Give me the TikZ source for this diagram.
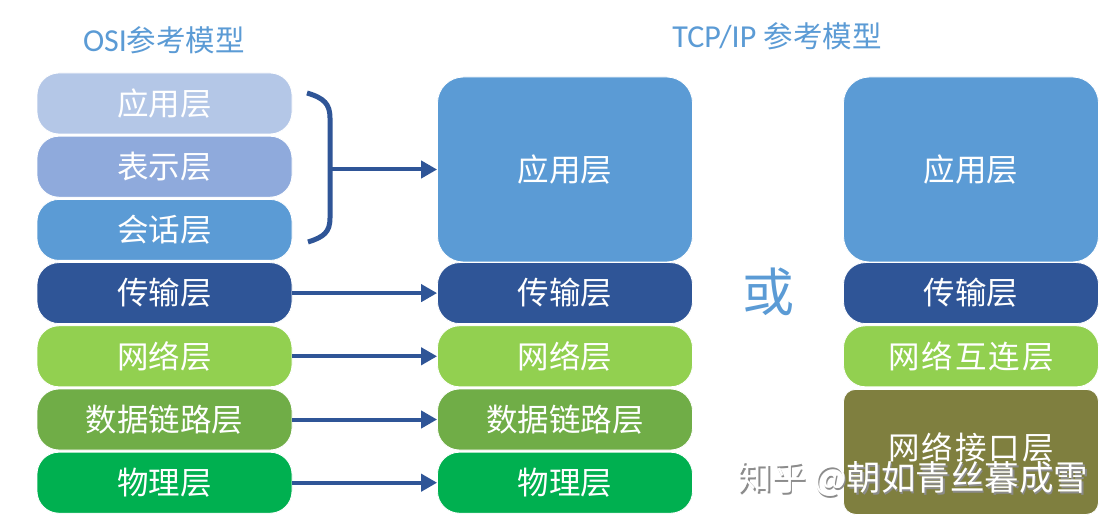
\documentclass[tikz,border=0pt]{standalone}
\usepackage{fontspec}
\setmainfont{Noto Sans CJK SC}
\newfontfamily\latf{Carlito}
\usetikzlibrary{arrows.meta}
\definecolor{cApp}{HTML}{B4C7E7}
\definecolor{cPre}{HTML}{8FAADC}
\definecolor{cSes}{HTML}{5B9BD5}
\definecolor{cTra}{HTML}{2F5597}
\definecolor{cNet}{HTML}{92D050}
\definecolor{cDat}{HTML}{70AD47}
\definecolor{cPhy}{HTML}{00B050}
\definecolor{cIfc}{HTML}{7F7F3F}
\definecolor{cTitle}{HTML}{5B9BD5}
\definecolor{cArr}{HTML}{2F5597}
\tikzset{
  layer/.style={rounded corners=22pt, draw=white, line width=0.8pt, inner sep=0pt,
    minimum width=255pt, minimum height=61pt, text=white,
    font=\fontsize{31.5}{34}\selectfont},
  arr/.style={draw=cArr, line width=4pt, -{Triangle[length=16pt,width=17pt]}},
  brk/.style={draw=cArr, line width=5pt},
  title/.style={text=cTitle, font=\fontsize{29.5}{32}\selectfont},
}
\begin{document}
\begin{tikzpicture}[x=1pt,y=-1pt]
\useasboundingbox[fill=white] (0,0) rectangle (1113,529);
% titles
\node[title] (t1) at (164,40) {{\latf\fontsize{32}{34}\selectfont OSI}参考模型};
\node[title] (t2) at (777,36) {{\latf\fontsize{32}{34}\selectfont TCP/IP }参考模型};
% OSI column
\node[layer, fill=cApp] (o1) at (164.5,103.5) {应用层};
\node[layer, fill=cPre] (o2) at (164.5,166.7) {表示层};
\node[layer, fill=cSes] (o3) at (164.5,229.9) {会话层};
\node[layer, fill=cTra] (o4) at (164.5,293.1) {传输层};
\node[layer, fill=cNet] (o5) at (164.5,356.3) {网络层};
\node[layer, fill=cDat] (o6) at (164.5,419.5) {数据链路层};
\node[layer, fill=cPhy] (o7) at (164.5,482.7) {物理层};
% TCP/IP middle column
\node[layer, fill=cSes, minimum height=185pt, rounded corners=26pt] (m1) at (565,169.5) {应用层};
\node[layer, fill=cTra] (m2) at (565,293.1) {传输层};
\node[layer, fill=cNet] (m3) at (565,356.3) {网络层};
\node[layer, fill=cDat] (m4) at (565,419.5) {数据链路层};
\node[layer, fill=cPhy] (m5) at (565,482.7) {物理层};
% or
\node[text=cTitle, font=\fontsize{52}{56}\selectfont] (or) at (768,292) {或};
% TCP/IP right column
\node[layer, fill=cSes, minimum height=185pt, rounded corners=26pt] (r1) at (971,169.5) {应用层};
\node[layer, fill=cTra] (r2) at (971,293.1) {传输层};
\node[layer, fill=cNet] (r3) at (971,356.3) {网\kern2pt 络\kern2pt 互\kern2pt 连\kern2pt 层};
\node[layer, fill=cIfc, minimum height=125pt, rounded corners=12pt, anchor=north] (r4) at (971,389) {};
\node[text=white, font=\fontsize{31.5}{34}\selectfont] (r4t) at (971,447) {网\kern2pt 络\kern2pt 接\kern2pt 口\kern2pt 层};
% bracket
\coordinate (bt) at (307,93);
\coordinate (bb) at (308,242);
\coordinate (bm) at (330,169.5);
\draw[brk] (bt) .. controls (324,98) and (330,104) .. (330,118) -- (330,218) .. controls (330,232) and (324,237) .. (bb);
% arrows
\draw[arr] (bm) -- (m1.west);
\draw[arr] (o4.east) -- (m2.west);
\draw[arr] (o5.east) -- (m3.west);
\draw[arr] (o6.east) -- (m4.west);
\draw[arr] (o7.east) -- (m5.west);
% watermark
\node[anchor=west, text=black!45, font=\fontsize{34.5}{38}\selectfont] (wms) at (735.5,480.5) {知乎 @朝如青丝暮成雪};
\node[anchor=west, text=white, font=\fontsize{34.5}{38}\selectfont] (wm) at (734,479) {知乎 @朝如青丝暮成雪};
\end{tikzpicture}
\end{document}
